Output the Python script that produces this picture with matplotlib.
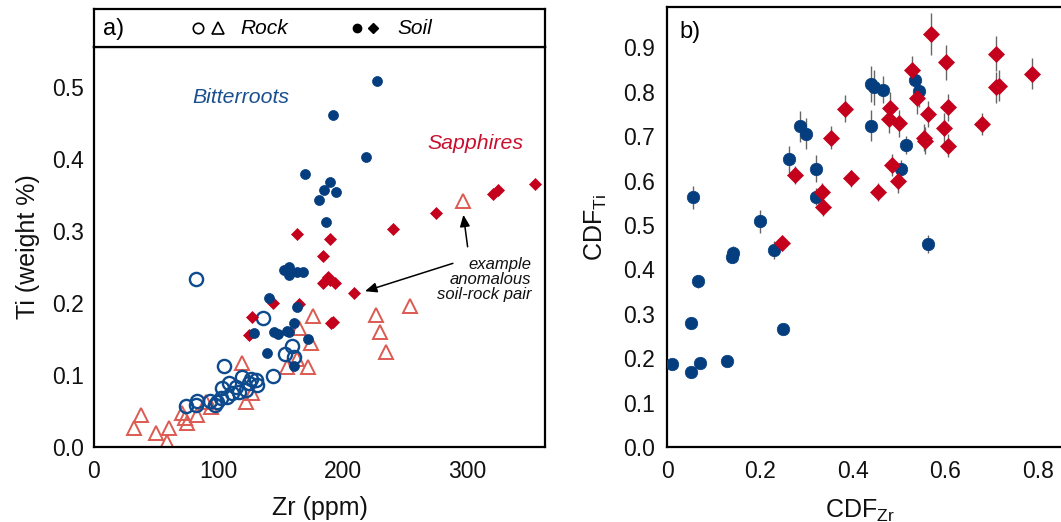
import matplotlib
matplotlib.use("Agg")
import matplotlib.pyplot as plt
import numpy as np

plt.rcParams['font.family'] = ['Liberation Sans', 'DejaVu Sans']
plt.rcParams['mathtext.fontset'] = 'custom'
plt.rcParams['mathtext.rm'] = 'Liberation Sans'
plt.rcParams['mathtext.it'] = 'Liberation Sans:italic'

# ---------------- Panel a data ----------------
rock_bitter_zr = [82, 136, 105, 159, 154, 161, 144, 119, 130, 125, 109, 114, 103, 131, 122,
                  117, 111, 107, 102, 99, 97, 83, 82, 74, 126, 93]
rock_bitter_ti = [0.233, 0.179, 0.1125, 0.140, 0.129, 0.125, 0.0986, 0.097, 0.093, 0.089, 0.089,
                  0.083, 0.082, 0.086, 0.079, 0.076, 0.075, 0.069, 0.068, 0.0625, 0.058, 0.064,
                  0.058, 0.057, 0.095, 0.064]

rock_sapph_zr = [297, 254, 227, 230, 235, 176, 165, 175, 163, 119, 155, 172, 122, 127, 90,
                 94, 83, 71, 73, 75, 38, 32, 50, 60, 59]
rock_sapph_ti = [0.342, 0.196, 0.183, 0.160, 0.132, 0.182, 0.165, 0.144, 0.122, 0.117, 0.111,
                 0.111, 0.0625, 0.075, 0.0625, 0.056, 0.044, 0.047, 0.040, 0.033, 0.044, 0.026,
                 0.019, 0.026, 0.007]

soil_bitter_zr = [228, 192, 219, 170, 190, 185, 195, 181, 187, 153, 157, 157, 163, 168, 141,
                  163, 161, 129, 145, 148, 155, 157, 172, 139, 161]
soil_bitter_ti = [0.508, 0.46, 0.403, 0.379, 0.368, 0.357, 0.354, 0.343, 0.3125, 0.246, 0.250,
                  0.239, 0.243, 0.243, 0.207, 0.194, 0.172, 0.158, 0.160, 0.157, 0.161, 0.160,
                  0.150, 0.131, 0.1125]

soil_sapph_zr = [355, 325, 321, 275, 241, 163, 190, 184, 188, 184, 194, 190, 209, 192, 144,
                 165, 127, 191, 125]
soil_sapph_ti = [0.365, 0.356, 0.351, 0.324, 0.303, 0.296, 0.289, 0.265, 0.236, 0.228, 0.228,
                 0.232, 0.214, 0.174, 0.200, 0.199, 0.181, 0.172, 0.155]

# ---------------- Panel b data ----------------
b_bitter_x = [0.056, 0.20, 0.142, 0.140, 0.23, 0.563, 0.263, 0.287, 0.30, 0.321, 0.321, 0.44,
              0.44, 0.446, 0.466, 0.515, 0.504, 0.535, 0.543, 0.067, 0.052, 0.25, 0.011, 0.052,
              0.071, 0.129]
b_bitter_y = [0.562, 0.508, 0.438, 0.429, 0.443, 0.458, 0.648, 0.722, 0.706, 0.627, 0.564, 0.724,
              0.818, 0.81, 0.805, 0.681, 0.627, 0.827, 0.801, 0.373, 0.28, 0.265, 0.186, 0.168,
              0.19, 0.193]
b_bitter_err = [0.025, 0.025, 0.015, 0.015, 0.02, 0.02, 0.03, 0.035, 0.035, 0.03, 0.02, 0.035,
                0.04, 0.04, 0.03, 0.02, 0.02, 0.03, 0.035, 0.015, 0.005, 0.005, 0.005, 0.005,
                0.005, 0.005]

b_sapph_x = [0.569, 0.709, 0.601, 0.787, 0.528, 0.709, 0.716, 0.539, 0.384, 0.481, 0.606, 0.563,
             0.478, 0.50, 0.679, 0.597, 0.353, 0.554, 0.556, 0.606, 0.485, 0.276, 0.397, 0.498,
             0.455, 0.334, 0.336, 0.248]
b_sapph_y = [0.931, 0.886, 0.866, 0.841, 0.850, 0.81, 0.814, 0.785, 0.762, 0.764, 0.765, 0.75,
             0.738, 0.729, 0.728, 0.718, 0.697, 0.697, 0.69, 0.679, 0.636, 0.613, 0.605, 0.598,
             0.575, 0.575, 0.541, 0.46]
b_sapph_err = [0.047, 0.04, 0.04, 0.035, 0.03, 0.035, 0.035, 0.035, 0.03, 0.035, 0.03, 0.03,
               0.03, 0.03, 0.025, 0.035, 0.025, 0.03, 0.03, 0.025, 0.025, 0.02, 0.02, 0.025,
               0.02, 0.02, 0.02, 0.015]

a_xticks = [0, 100, 200, 300]
a_yticks = [0.0, 0.1, 0.2, 0.3, 0.4, 0.5]
b_xticks = [0, 0.2, 0.4, 0.6, 0.8]
b_xticklabels = ['0', '0.2', '0.4', '0.6', '0.8']
b_yticks = [0.0, 0.1, 0.2, 0.3, 0.4, 0.5, 0.6, 0.7, 0.8, 0.9]

BLUE = '#053e7e'
RING = '#0d4b8e'
RED = '#c4001c'
TRI = '#dc5a52'
TXT = '#111111'
TICKFS = 16.5
LABFS = 18

W, H = 1061, 522
fig = plt.figure(figsize=(W / 100, H / 100), dpi=100)

def frac(x0, y_top, x1, y_bot):
    return [x0 / W, 1 - y_bot / H, (x1 - x0) / W, (y_bot - y_top) / H]

# ---------- Panel a ----------
axa = fig.add_axes(frac(94, 47, 545, 447))
axa.plot(rock_sapph_zr, rock_sapph_ti, linestyle='none', marker='^', ms=10.5, mfc='none',
         mec=TRI, mew=1.4, zorder=2)
axa.plot(rock_bitter_zr, rock_bitter_ti, linestyle='none', marker='o', ms=9.5, mfc='none',
         mec=RING, mew=1.7, zorder=3)
axa.plot(soil_sapph_zr, soil_sapph_ti, linestyle='none', marker='D', ms=6.0, mfc=RED,
         mec=RED, mew=0.5, zorder=4)
axa.plot(soil_bitter_zr, soil_bitter_ti, linestyle='none', marker='o', ms=7.2, mfc=BLUE,
         mec=BLUE, mew=0.5, zorder=5)
axa.set_xlim(0, 363)
axa.set_ylim(0, 0.555)
axa.set_xticks(a_xticks)
axa.set_xticklabels([str(v) for v in a_xticks])
axa.set_yticks(a_yticks)
axa.set_yticklabels(['%.1f' % v for v in a_yticks])
axa.tick_params(length=0, labelsize=TICKFS, colors=TXT)
axa.tick_params(axis='x', pad=9)
axa.tick_params(axis='y', pad=7)
for s in axa.spines.values():
    s.set_linewidth(1.6)
axa.set_xlabel('Zr (ppm)', fontsize=LABFS, labelpad=10, color=TXT)
axa.set_ylabel('Ti (weight %)', fontsize=LABFS, labelpad=9, color=TXT)

axa.text(118.5, 0.485, 'Bitterroots', color='#1a4f8e', style='italic', fontsize=15.3,
         ha='center', va='center')
axa.text(307, 0.421, 'Sapphires', color='#c8102e', style='italic', fontsize=15.3,
         ha='center', va='center')
axa.text(352, 0.232, 'example\nanomalous\nsoil-rock pair', style='italic', fontsize=12,
         ha='right', va='center', multialignment='right', linespacing=1.0, color=TXT)
axa.annotate('', xy=(297, 0.326), xytext=(301, 0.274),
             arrowprops=dict(arrowstyle='-|>,head_length=0.7,head_width=0.3', color='black', lw=1.1))
axa.annotate('', xy=(216, 0.215), xytext=(291, 0.256),
             arrowprops=dict(arrowstyle='-|>,head_length=0.7,head_width=0.3', color='black', lw=1.1))

# header
axh = fig.add_axes(frac(94, 9, 545, 47))
axh.set_xlim(0, 1)
axh.set_ylim(0, 1)
axh.set_xticks([])
axh.set_yticks([])
for s in axh.spines.values():
    s.set_linewidth(1.6)
axh.text(9 / 451, 0.48, 'a)', fontsize=17, ha='left', va='center')
axh.plot([(198 - 94) / 451], [0.5], marker='o', ms=7.5, mfc='none', mec='black', mew=1.2,
         transform=axh.transAxes)
axh.plot([(218 - 94) / 451], [0.5], marker='^', ms=8, mfc='none', mec='black', mew=1.2,
         transform=axh.transAxes)
axh.text((240 - 94) / 451, 0.48, 'Rock', fontsize=15, style='italic', ha='left', va='center')
axh.plot([(357 - 94) / 451], [0.5], marker='o', ms=6, mfc='black', mec='black',
         transform=axh.transAxes)
axh.plot([(373 - 94) / 451], [0.5], marker='D', ms=5.5, mfc='black', mec='black',
         transform=axh.transAxes)
axh.text((397 - 94) / 451, 0.48, 'Soil', fontsize=15, style='italic', ha='left', va='center')

# ---------- Panel b ----------
bx0, bscale = 667, 464
bxmax = 0.88
bright = bx0 + bxmax * bscale
axb = fig.add_axes(frac(bx0, 7, bright, 447))
axb.errorbar(b_bitter_x, b_bitter_y, yerr=b_bitter_err, fmt='none', ecolor='#666666',
             elinewidth=1.0, capsize=0, zorder=2)
axb.errorbar(b_sapph_x, b_sapph_y, yerr=b_sapph_err, fmt='none', ecolor='#666666',
             elinewidth=1.0, capsize=0, zorder=2)
axb.plot(b_bitter_x, b_bitter_y, linestyle='none', marker='o', ms=9, mfc=BLUE, mec=BLUE,
         mew=0.5, zorder=3)
axb.plot(b_sapph_x, b_sapph_y, linestyle='none', marker='D', ms=8.3, mfc=RED, mec=RED,
         mew=0.5, zorder=4)
axb.set_xlim(0, bxmax)
axb.set_ylim(0, 440 / 444)
axb.set_xticks(b_xticks)
axb.set_xticklabels(b_xticklabels)
axb.set_yticks(b_yticks)
axb.set_yticklabels(['%.1f' % v for v in b_yticks])
axb.tick_params(length=0, labelsize=TICKFS, colors=TXT)
axb.tick_params(axis='x', pad=9)
axb.tick_params(axis='y', pad=9)
for s in axb.spines.values():
    s.set_linewidth(1.6)
axb.set_xlabel(r'CDF$_{\mathrm{Zr}}$', fontsize=LABFS, labelpad=8, color=TXT)
axb.xaxis.set_label_coords((860 - bx0) / (bxmax * bscale), -0.115)
axb.set_ylabel(r'CDF$_{\mathrm{Ti}}$', fontsize=LABFS, labelpad=10, color=TXT)
axb.text(0.027, 0.935, 'b)', fontsize=17, ha='left', va='center')

fig.savefig('out.png', dpi=100)
